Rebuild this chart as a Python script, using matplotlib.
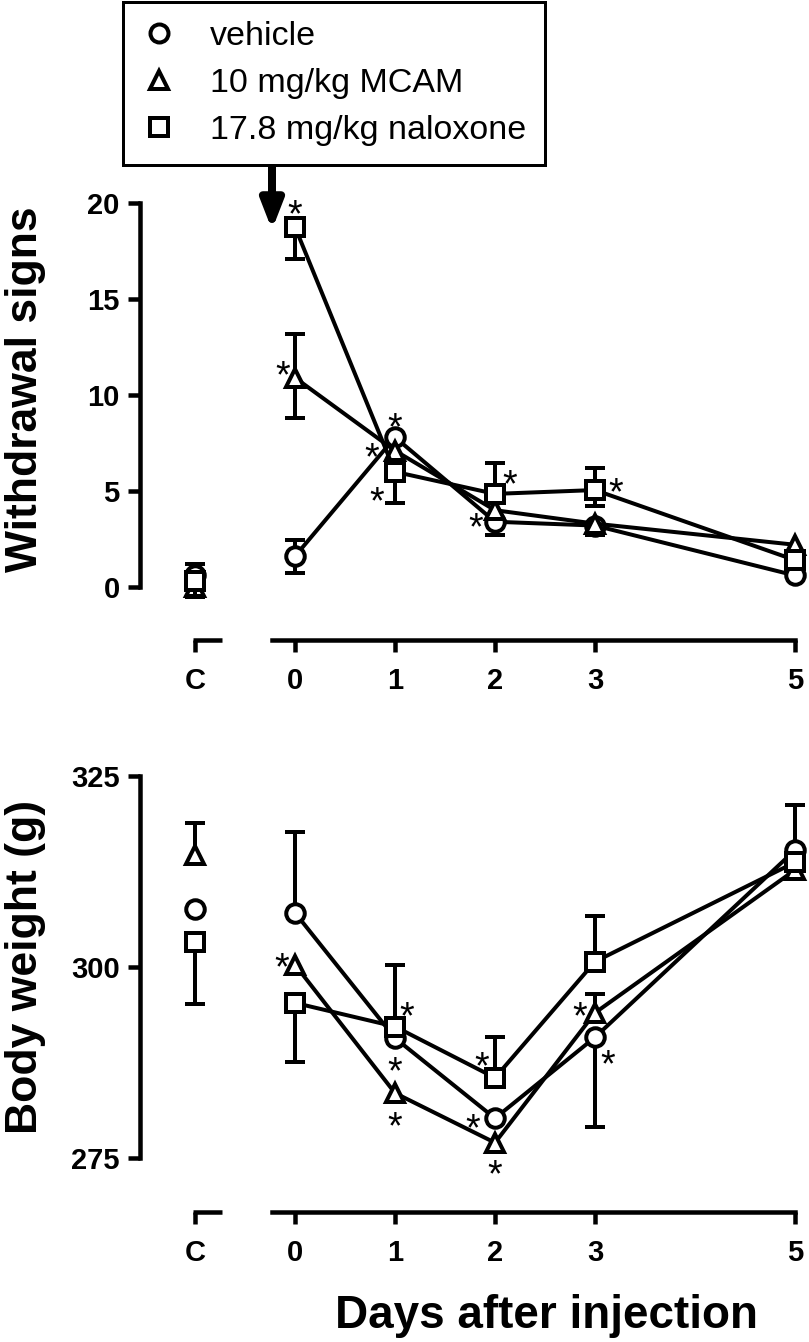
import matplotlib
matplotlib.use('Agg')
import matplotlib.pyplot as plt
import matplotlib.transforms as mtransforms
from matplotlib.lines import Line2D

plt.rcParams['font.family'] = ['Liberation Sans', 'DejaVu Sans']
plt.rcParams['font.weight'] = 'bold'

# данные
days = [-1, 0, 1, 2, 3, 5]          # -1 = контроль (C)
day_labels = ['C', '0', '1', '2', '3', '5']
groups = ['vehicle', '10 mg/kg MCAM', '17.8 mg/kg naloxone']
markers = ['o', '^', 's']

# признаки отмены
wd_vehicle = [0.6, 1.6, 7.8, 3.4, 3.2, 0.6]
wd_vehicle_up = [0.6, 0.85, 0, 0, 0, 0]
wd_vehicle_lo = [0, 0.85, 0, 0.7, 0.5, 0]
wd_mcam = [0.0, 10.9, 7.1, 4.0, 3.3, 2.2]
wd_mcam_up = [0, 2.3, 0, 0, 0, 0]
wd_mcam_lo = [0, 2.1, 0, 0, 0, 0]
wd_nalox = [0.3, 18.75, 6.0, 4.85, 5.05, 1.4]
wd_nalox_up = [0, 0, 0, 1.6, 1.15, 0]
wd_nalox_lo = [0.8, 1.65, 1.6, 0, 0.85, 0]

# масса тела
bw_vehicle = [307.6, 307.1, 290.7, 280.2, 290.8, 315.3]
bw_vehicle_up = [0, 10.6, 0, 0, 0, 5.9]
bw_vehicle_lo = [0, 0, 0, 0, 11.8, 0]
bw_mcam = [314.7, 300.3, 283.5, 277.0, 294.0, 312.7]
bw_mcam_up = [4.1, 0, 0, 0, 2.5, 0]
bw_mcam_lo = [0, 0, 0, 0, 0, 0]
bw_nalox = [303.3, 295.3, 292.2, 285.5, 300.7, 313.7]
bw_nalox_up = [0, 0, 8.1, 5.3, 6.0, 0]
bw_nalox_lo = [8.1, 7.7, 0, 0, 0, 0]

# звёздочки: (группа, индекс дня, сдвиг x, сдвиг y) в пикселях
wd_stars = [(2, 1, 0, 22), (1, 1, -12, 12), (0, 2, 0, 19), (1, 2, -23, 3),
            (2, 2, -18, -20), (2, 3, 15, 19), (0, 3, -19, 4), (2, 4, 21, 7)]
bw_stars = [(1, 1, -13, 7), (2, 2, 12, 20), (0, 2, 0, -24), (1, 2, 0, -24),
            (2, 3, -13, 21), (0, 3, -22, -1), (1, 3, 0, -22), (1, 4, -15, 6),
            (0, 4, 13, -18)]

PX = 72 / 100   # пиксели -> пункты
LW = 4 * PX
STAR_FS = 27
TICK_FS = 21


def draw_panel(ax, series, stars):
    for i, (vals, up, lo) in enumerate(series):
        z = 2 + i * 3
        for x, v, u, l in zip(days, vals, up, lo):   # усы погрешностей
            if u > 0:
                ax.vlines(x, v, v + u, color='k', lw=LW, zorder=z, clip_on=False)
                ax.plot(x, v + u, marker='_', ms=20 * PX, mew=LW, color='k', zorder=z, clip_on=False)
            if l > 0:
                ax.vlines(x, v - l, v, color='k', lw=LW, zorder=z, clip_on=False)
                ax.plot(x, v - l, marker='_', ms=20 * PX, mew=LW, color='k', zorder=z, clip_on=False)
        ax.plot(days[1:], vals[1:], '-', color='k', lw=LW, zorder=z + 1, clip_on=False)
        ax.plot(days, vals, linestyle='none', marker=markers[i], ms=18.5 * PX, mfc='white',
                mec='k', mew=LW, zorder=z + 2, clip_on=False)
    for g, d, dx, dy in stars:
        ax.annotate('*', xy=(days[d], series[g][0][d]), xytext=(dx * PX, dy * PX - 0.57 * STAR_FS),
                    textcoords='offset points', ha='center', va='baseline',
                    fontsize=STAR_FS, fontweight='normal', zorder=20, annotation_clip=False)


def style_axes(ax, off_px):
    ax.set_xlim(-1.55, 5.0)
    for s in ['top', 'right']:
        ax.spines[s].set_visible(False)
    ax.spines['left'].set_linewidth(4.5 * PX)
    ax.spines['bottom'].set_linewidth(4.5 * PX)
    ax.spines['bottom'].set_position(('outward', off_px * PX))
    ax.spines['bottom'].set_bounds(-0.23, 5)
    ax.set_xticks(days, day_labels)
    ax.tick_params(axis='x', length=12 * PX, width=4.5 * PX, pad=11, labelsize=TICK_FS)
    ax.tick_params(axis='y', length=12 * PX, width=4.5 * PX, pad=6, labelsize=TICK_FS)
    # отдельный кусок оси для контроля
    trans = ax.get_xaxis_transform() + mtransforms.ScaledTranslation(0, -off_px / 100, fig.dpi_scale_trans)
    ax.plot([-1.02, -0.73], [0, 0], color='k', lw=4.5 * PX, transform=trans,
            clip_on=False, solid_capstyle='butt')


fig = plt.figure(figsize=(8.09, 13.42), dpi=100)
ax1 = fig.add_axes([140 / 809, 1 - 587 / 1342, 655 / 809, 384 / 1342])
ax2 = fig.add_axes([140 / 809, 1 - 1158 / 1342, 655 / 809, 382 / 1342])

draw_panel(ax1, [(wd_vehicle, wd_vehicle_up, wd_vehicle_lo),
                 (wd_mcam, wd_mcam_up, wd_mcam_lo),
                 (wd_nalox, wd_nalox_up, wd_nalox_lo)], wd_stars)
draw_panel(ax2, [(bw_vehicle, bw_vehicle_up, bw_vehicle_lo),
                 (bw_mcam, bw_mcam_up, bw_mcam_lo),
                 (bw_nalox, bw_nalox_up, bw_nalox_lo)], bw_stars)

style_axes(ax1, 53)
style_axes(ax2, 54)
ax1.set_ylim(0, 20)
ax1.set_yticks([0, 5, 10, 15, 20])
ax2.set_ylim(275, 325)
ax2.set_yticks([275, 300, 325])

ax1.set_ylabel('Withdrawal signs', fontsize=32, fontweight='bold')
ax1.yaxis.set_label_coords(-0.143, 0.515)
ax2.set_ylabel('Body weight (g)', fontsize=32, fontweight='bold')
ax2.yaxis.set_label_coords(-0.143, 0.5)
ax2.set_xlabel('Days after injection', fontsize=33, fontweight='bold')
ax2.xaxis.set_label_coords(0.62, -0.355)

# легенда
handles = [Line2D([], [], linestyle='none', marker=m, ms=18 * PX, mfc='white', mec='k', mew=LW)
           for m in markers]
leg = fig.legend(handles, groups, loc='upper left', bbox_to_anchor=(123 / 809, 1 - 2 / 1342),
                 prop={'size': 24.5, 'weight': 'normal'}, frameon=True, fancybox=False,
                 edgecolor='k', framealpha=1, borderpad=0.55, handlelength=1.0,
                 handletextpad=1.0, labelspacing=0.48, borderaxespad=0)
leg.get_frame().set_linewidth(3 * PX)

# стрелка от легенды
ax1.annotate('', xy=(-0.23, 18.6), xytext=(272 / 809, 1 - 158 / 1342), textcoords='figure fraction',
             arrowprops=dict(arrowstyle='-|>,head_length=0.85,head_width=0.33', lw=8 * PX,
                             color='k', shrinkA=0, shrinkB=0, mutation_scale=20),
             annotation_clip=False)

fig.savefig('out.png', dpi=100)
